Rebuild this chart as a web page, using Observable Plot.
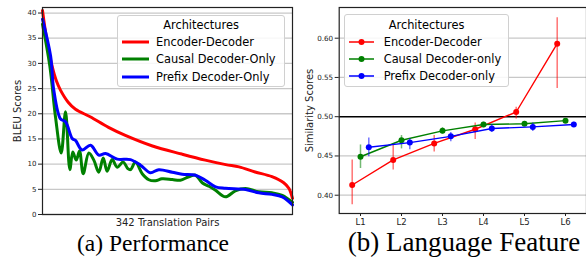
<!DOCTYPE html>
<html><head><meta charset="utf-8">
<script src="https://cdn.jsdelivr.net/npm/d3@7"></script>
<script src="https://cdn.jsdelivr.net/npm/@observablehq/plot@0.6"></script>
<style>
body{margin:0;background:#fff;}
#fig{position:relative;width:586px;height:266px;overflow:hidden;background:#fff;font-family:"DejaVu Sans",sans-serif;}
.panel{position:absolute;top:0;}
.legend{position:absolute;background:rgba(255,255,255,0.85);border:1px solid #d0d0d0;border-radius:3px;box-sizing:border-box;font-size:11.4px;color:#000;}
.legend .ttl{position:absolute;left:0;right:0;text-align:center;line-height:14px;}
.legend .row{position:absolute;left:0;height:14px;line-height:14px;white-space:nowrap;}
.legend svg{position:absolute;top:0;}
.legend .lab{position:absolute;top:0;}
.cap{position:absolute;font-family:"Liberation Serif","Times New Roman",serif;color:#000;transform:translateX(-50%);white-space:nowrap;}
</style></head>
<body>
<div id="fig"></div>
<script>
// ---------- Data ----------
const seriesNames = ["Encoder-Decoder", "Causal Decoder-Only", "Prefix Decoder-Only"];
const seriesNamesB = ["Encoder-Decoder", "Causal Decoder-only", "Prefix Decoder-only"];
const seriesColors = ["#ff0000", "#008000", "#0000ff"];
const legendTitle = "Architectures";

// (a) BLEU per translation pair (sorted), sampled along 342 pairs
const redIdx   = [0, 6, 13, 19, 24.5, 35, 45, 65, 90, 113, 150, 190, 222, 250, 268, 290, 313, 329, 336, 341];
const redBleu  = [40.5, 34.5, 29.5, 26.5, 24.7, 22.3, 20.9, 19.4, 17.3, 15.7, 13.6, 12.0, 10.8, 9.9, 9.45, 8.45, 7.5, 6.3, 5.2, 3.2];
const greenIdx  = [0, 10, 17.7, 25.5, 31.4, 37.3, 41.3, 46, 50.5, 55.5, 63.2, 70, 76.8, 82.8, 88.2, 95, 102, 110, 116.4, 120, 126.8, 136, 145, 154, 163, 177, 188, 199.6, 208.7, 217.8, 227, 236, 249.6, 263, 277, 295, 313, 327, 341];
const greenBleu = [37.8, 29.5, 19.4, 12.2, 20.4, 8.9, 12.4, 10.8, 12.6, 8.1, 12.2, 10.8, 8.4, 11.2, 8.6, 10.9, 9.4, 10.4, 9.1, 8.9, 10.4, 8.1, 6.9, 6.7, 7.1, 6.95, 6.8, 7.5, 7.8, 6.3, 5.6, 4.8, 3.5, 4.7, 5.15, 4.5, 4.3, 3.8, 2.4];
const blueIdx   = [0, 11, 15.4, 24.5, 31.4, 40.5, 45, 54, 65.5, 76.8, 86, 102, 120, 133.7, 147, 158.6, 177, 190.5, 208.7, 222, 236, 249.6, 277, 295, 313, 327, 341];
const blueBleu  = [38.8, 31.5, 24.7, 19.0, 18.4, 15.1, 14.7, 12.8, 13.75, 11.8, 12.1, 11.0, 10.9, 9.8, 8.3, 8.9, 8.4, 8.0, 7.8, 6.8, 5.5, 5.2, 4.95, 4.3, 4.0, 3.5, 1.9];
const bleuTicks = [0, 5, 10, 15, 20, 25, 30, 35, 40];
const xLabelA = "342 Translation Pairs";
const yLabelA = "BLEU Scores";

// (b) similarity per language feature layer
const levels = ["L1", "L2", "L3", "L4", "L5", "L6"];
const encDec    = [0.413, 0.445, 0.466, 0.484, 0.506, 0.593];
const encDecLo  = [0.388, 0.432, 0.455, 0.471, 0.497, 0.536];
const encDecHi  = [0.445, 0.465, 0.476, 0.492, 0.512, 0.626];
const causal    = [0.449, 0.470, 0.482, 0.490, 0.491, 0.495];
const causalLo  = [0.434, 0.459, 0.478, 0.486, 0.488, 0.492];
const causalHi  = [0.464, 0.476, 0.486, 0.493, 0.494, 0.497];
const prefix    = [0.461, 0.467, 0.475, 0.485, 0.487, 0.490];
const prefixLo  = [0.449, 0.458, 0.468, 0.480, 0.481, 0.487];
const prefixHi  = [0.473, 0.472, 0.480, 0.490, 0.492, 0.493];
const simTicks = [0.40, 0.45, 0.50, 0.55, 0.60];
const yLabelB = "Similarity Scores";

const captionA = "(a) Performance";
const captionB = "(b) Language Feature";

// ---------- Build ----------
const fig = document.getElementById("fig");

const bleuSeries = [
  {idx: redIdx, val: redBleu},
  {idx: greenIdx, val: greenBleu},
  {idx: blueIdx, val: blueBleu}
].map((s, k) => s.idx.map((x, i) => ({idx: x, bleu: s.val[i], k})));

const simSeries = [
  [encDec, encDecLo, encDecHi],
  [causal, causalLo, causalHi],
  [prefix, prefixLo, prefixHi]
].map((s, k) => levels.map((l, i) => ({level: l, v: s[0][i], lo: s[1][i], hi: s[2][i], k})));

const fontFam = "DejaVu Sans, sans-serif";

const left = Plot.plot({
  width: 300, height: 230,
  marginLeft: 42, marginRight: 8, marginTop: 7, marginBottom: 16,
  style: {fontFamily: fontFam, background: "transparent", color: "#222"},
  x: {domain: [0, 341], axis: null},
  y: {domain: [0, 41.1], axis: null},
  marks: [
    Plot.ruleY(bleuTicks, {stroke: "#c8c8c8", strokeWidth: 1.3}),
    ...bleuSeries.map((rows, k) => Plot.line(rows, {x: "idx", y: "bleu", stroke: seriesColors[k], strokeWidth: 3, curve: "catmull-rom"})),
    Plot.frame({stroke: "#222", strokeWidth: 1.2}),
    Plot.axisY({ticks: bleuTicks, tickSize: 4, tickPadding: 2, fontSize: 7, label: null}),
    Plot.text([xLabelA], {frameAnchor: "bottom", dy: 8, textAnchor: "middle", lineAnchor: "middle", fontSize: 10, fill: "#222"}),
    Plot.text([yLabelA], {frameAnchor: "left", rotate: -90, dx: -25, textAnchor: "middle", lineAnchor: "middle", fontSize: 10, fill: "#222"})
  ]
});
left.classList.add("panel");
left.style.left = "0px";
fig.appendChild(left);

const offs = [-8.3, 0, 8.3];
const right = Plot.plot({
  width: 296, height: 230,
  marginLeft: 48.7, marginRight: 0, marginTop: 7, marginBottom: 17,
  style: {fontFamily: fontFam, background: "transparent", color: "#222"},
  x: {type: "point", domain: levels, padding: 0.462, axis: null},
  y: {domain: [0.3767, 0.6391], axis: null},
  marks: [
    Plot.ruleY(simTicks.filter(t => t !== 0.5), {stroke: "#c8c8c8", strokeWidth: 1.3}),
    Plot.ruleY([0.5], {stroke: "#000", strokeWidth: 1.5}),
    ...simSeries.flatMap((rows, k) => [
      Plot.ruleX(rows, {x: "level", y1: "lo", y2: "hi", stroke: seriesColors[k], strokeOpacity: 0.55, strokeWidth: 1.5, dx: offs[k]}),
      Plot.line(rows, {x: "level", y: "v", stroke: seriesColors[k], strokeWidth: 1.4, dx: offs[k]}),
      Plot.dot(rows, {x: "level", y: "v", fill: seriesColors[k], r: 3, dx: offs[k]})
    ]),
    Plot.frame({stroke: "#222", strokeWidth: 1.2}),
    Plot.axisX({tickSize: 3, tickPadding: 2, fontSize: 8.5, label: null}),
    Plot.axisY({ticks: simTicks, tickFormat: d3.format(".2f"), tickSize: 4, tickPadding: 2, fontSize: 7.2, label: null}),
    Plot.text([yLabelB], {frameAnchor: "left", rotate: -90, dx: -29.7, textAnchor: "middle", lineAnchor: "middle", fontSize: 10, fill: "#222"})
  ]
});
right.classList.add("panel");
right.style.left = "290px";
fig.appendChild(right);

// ---------- Legends ----------
function legend(names, box, swatchX, swatchW, textX, withDot) {
  const L = document.createElement("div");
  L.className = "legend";
  Object.assign(L.style, {left: box.x + "px", top: box.y + "px", width: box.w + "px", height: box.h + "px"});
  const t = document.createElement("div");
  t.className = "ttl"; t.textContent = legendTitle; t.style.top = "2.5px";
  L.appendChild(t);
  names.forEach((n, i) => {
    const r = document.createElement("div");
    r.className = "row";
    r.style.top = (19.5 + i * 17.4) + "px";
    r.style.width = box.w + "px";
    const svg = document.createElementNS("http://www.w3.org/2000/svg", "svg");
    svg.setAttribute("width", swatchW + 6); svg.setAttribute("height", 14);
    svg.style.left = (swatchX - 3) + "px";
    const ln = document.createElementNS(svg.namespaceURI, "line");
    ln.setAttribute("x1", 3); ln.setAttribute("x2", 3 + swatchW);
    ln.setAttribute("y1", 7); ln.setAttribute("y2", 7);
    ln.setAttribute("stroke", seriesColors[i]);
    ln.setAttribute("stroke-width", withDot ? 1.5 : 3);
    svg.appendChild(ln);
    if (withDot) {
      const c = document.createElementNS(svg.namespaceURI, "circle");
      c.setAttribute("cx", 3 + swatchW / 2); c.setAttribute("cy", 7); c.setAttribute("r", 3);
      c.setAttribute("fill", seriesColors[i]);
      svg.appendChild(c);
    }
    r.appendChild(svg);
    const lab = document.createElement("span");
    lab.className = "lab"; lab.textContent = n; lab.style.left = textX + "px";
    r.appendChild(lab);
    L.appendChild(r);
  });
  fig.appendChild(L);
}
legend(seriesNames, {x: 117, y: 14.5, w: 168, h: 72.5}, 3.7, 27, 38, false);
legend(seriesNamesB, {x: 344, y: 14, w: 165, h: 73}, 4.3, 25, 38.7, true);

// ---------- Captions ----------
[[captionA, 153, 23.5, 232], [captionB, 464, 27, 229]].forEach(([txt, cx, fs, top]) => {
  const c = document.createElement("div");
  c.className = "cap"; c.textContent = txt;
  c.style.left = cx + "px"; c.style.top = top + "px";
  c.style.fontSize = fs + "px"; c.style.lineHeight = fs + "px";
  fig.appendChild(c);
});
</script>
</body></html>
